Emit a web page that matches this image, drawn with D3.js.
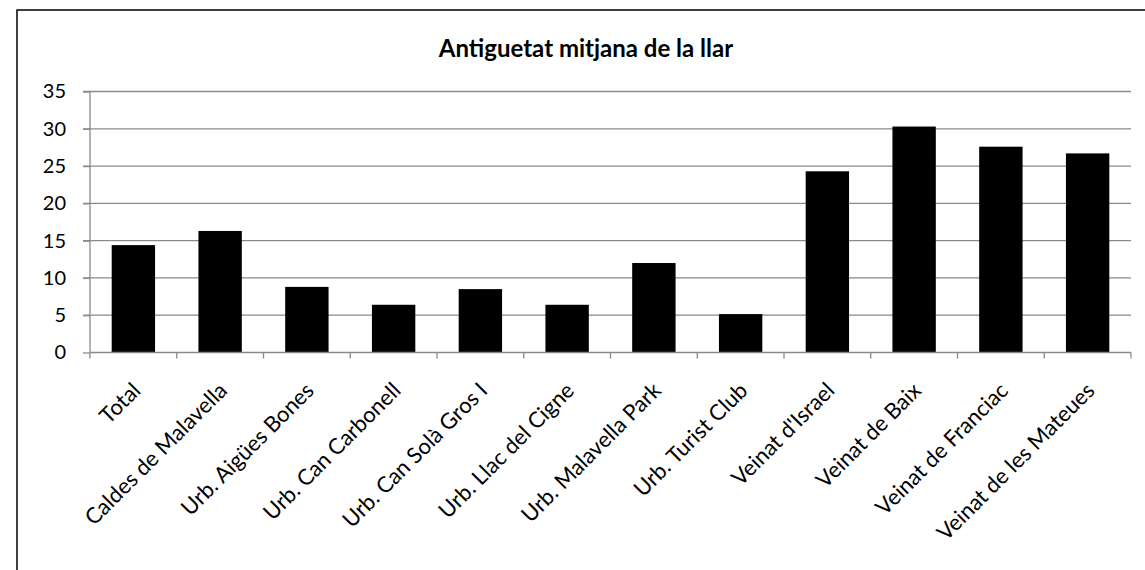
<!DOCTYPE html>
<meta charset="utf-8">
<style>
html, body {
  margin: 0;
  background: #fff;
}

.chart text {
  font-family: Lato, "Open Sans", sans-serif;
  fill: #000;
}

.chart .frame {
  fill: none;
  stroke: #000;
  stroke-width: 1.5;
}

.chart .grid line {
  stroke: #8a8a8a;
  stroke-width: 1.3;
}

.chart .axis path,
.chart .axis line {
  stroke: #8a8a8a;
  stroke-width: 1.3;
}

.chart .bar {
  fill: #000;
}
</style>
<body>
<svg class="chart" width="1145" height="570"></svg>

<script src="https://d3js.org/d3.v7.min.js"></script>
<script>
"use strict";

var categories = [
  "Total", "Caldes de Malavella", "Urb. Aigües Bones", "Urb. Can Carbonell",
  "Urb. Can Solà Gros I", "Urb. Llac del Cigne", "Urb. Malavella Park",
  "Urb. Turist Club", "Veinat d'Israel", "Veinat de Baix",
  "Veinat de Franciac", "Veinat de les Mateues"
];
var values = [14.4, 16.3, 8.8, 6.4, 8.5, 6.4, 12.0, 5.15, 24.3, 30.3, 27.6, 26.7];
var yTicks = [0, 5, 10, 15, 20, 25, 30, 35];
var title = "Antiguetat mitjana de la llar";

var margin = { top: 91.5, left: 90, right: 14, bottom: 217.5 },
  width = 1145 - margin.left - margin.right,
  height = 570 - margin.top - margin.bottom;

var svg = d3.select(".chart");

svg.append("rect")
  .attr("class", "frame")
  .attr("x", 17)
  .attr("y", 10)
  .attr("width", 1145)
  .attr("height", 600);

svg.append("text")
  .attr("x", 586)
  .attr("y", 57)
  .attr("text-anchor", "middle")
  .style("font-size", "24px")
  .style("font-weight", "bold")
  .text(title);

var g = svg.append("g")
  .attr("transform", "translate(" + margin.left + "," + margin.top + ")");

var x = d3.scaleBand()
  .domain(categories)
  .range([0, width])
  .paddingInner(0.5)
  .paddingOuter(0.25);

var y = d3.scaleLinear()
  .domain([0, 35])
  .range([height, 0]);

// gridlines
g.append("g")
  .attr("class", "grid")
  .selectAll("line")
  .data(yTicks.filter(function(d) { return d > 0; }))
  .join("line")
  .attr("x1", -7)
  .attr("x2", width)
  .attr("y1", function(d) { return y(d); })
  .attr("y2", function(d) { return y(d); });

g.selectAll(".bar")
  .data(values)
  .join("rect")
  .attr("class", "bar")
  .attr("x", function(d, i) { return x(categories[i]); })
  .attr("width", x.bandwidth())
  .attr("y", function(d) { return y(d); })
  .attr("height", function(d) { return height - y(d); });

// y axis
var yAxis = g.append("g")
  .attr("class", "axis")
  .call(d3.axisLeft(y).tickValues(yTicks).tickSize(7).tickPadding(17));
yAxis.select(".domain").attr("d", "M0," + height + "V0");
yAxis.selectAll("text").style("font-size", "20px");

// x axis: ticks at band boundaries
var xAxis = g.append("g")
  .attr("class", "axis")
  .attr("transform", "translate(0," + height + ")");
xAxis.append("line")
  .attr("x1", 0).attr("x2", width)
  .attr("y1", 0).attr("y2", 0);
xAxis.selectAll(".tk")
  .data(d3.range(categories.length + 1))
  .join("line")
  .attr("class", "tk")
  .attr("x1", function(i) { return i * x.step(); })
  .attr("x2", function(i) { return i * x.step(); })
  .attr("y1", 0)
  .attr("y2", 6);

xAxis.selectAll(".lbl")
  .data(categories)
  .join("text")
  .attr("class", "lbl")
  .attr("text-anchor", "end")
  .attr("transform", function(d) {
    return "translate(" + (x(d) + x.bandwidth() / 2 + 3) + ",34) rotate(-45)";
  })
  .attr("dy", "0.35em")
  .style("font-size", "22px")
  .text(function(d) { return d; });
</script>
</body>
